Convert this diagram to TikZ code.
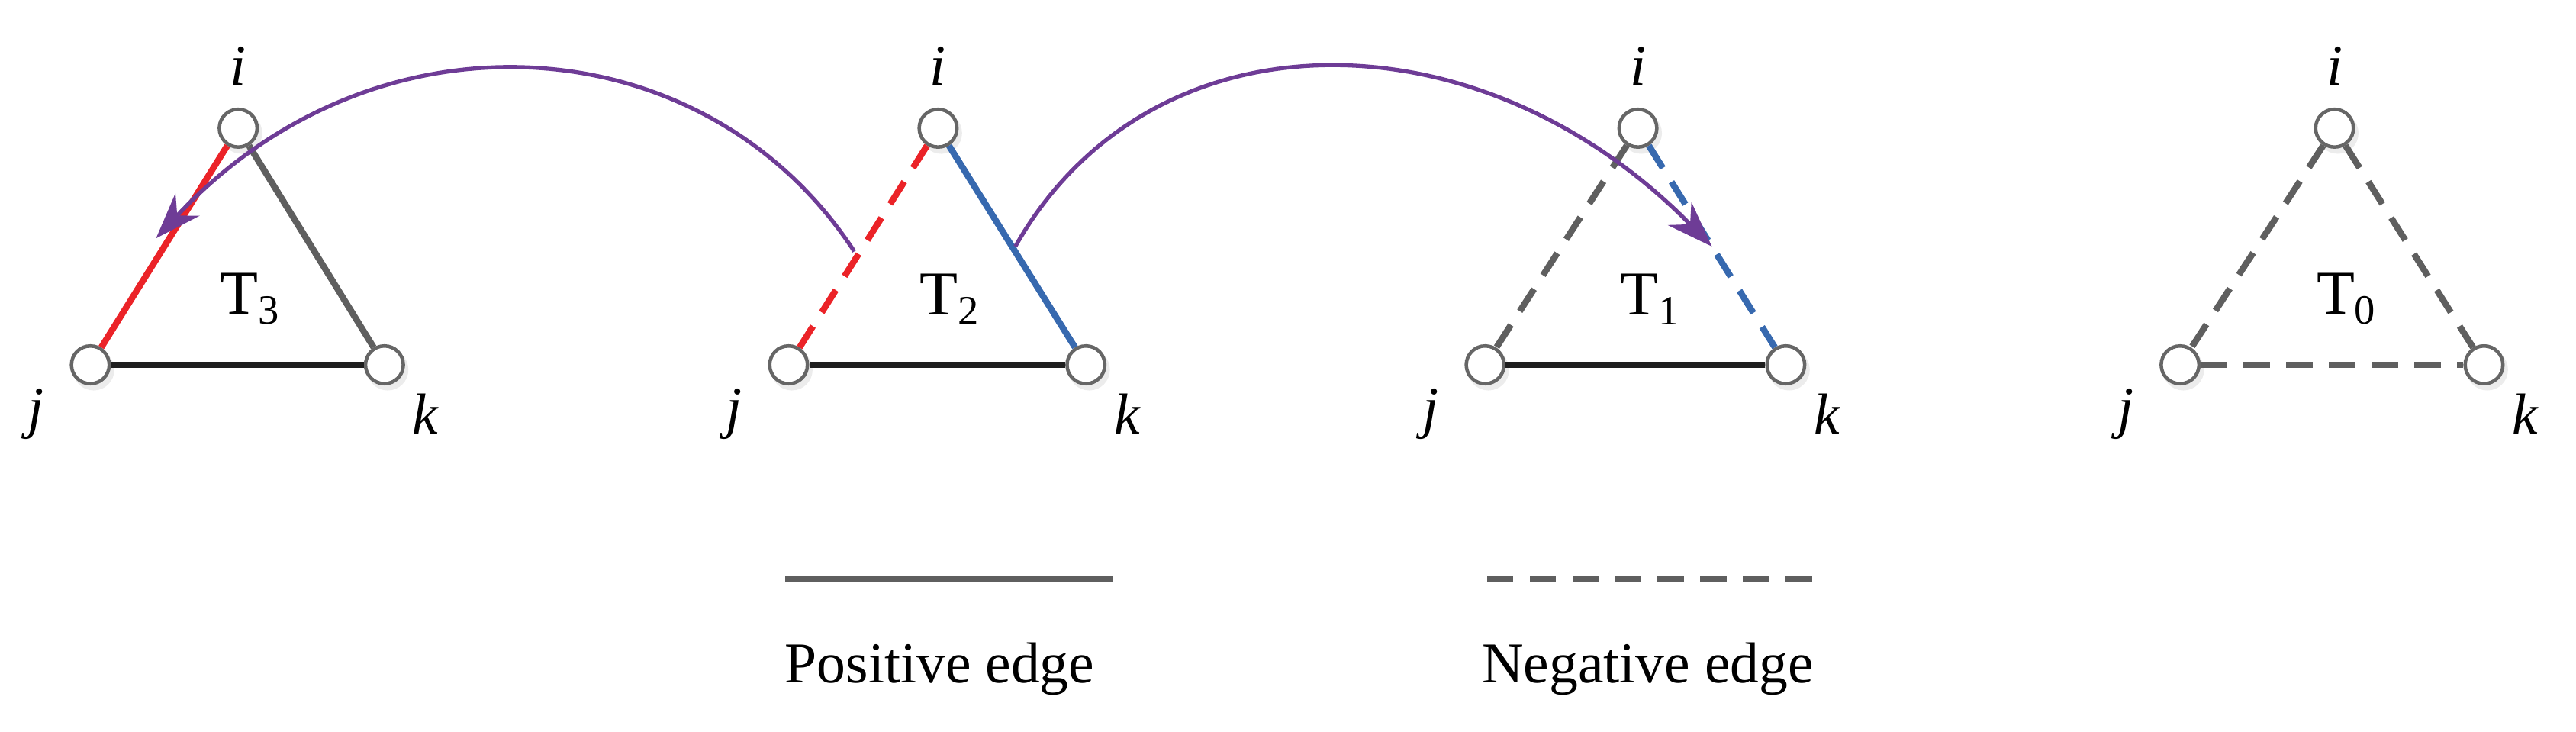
\documentclass[tikz,border=0pt]{standalone}
\usepackage{fontspec}
\setmainfont{Liberation Serif}
\usetikzlibrary{arrows.meta}
\newcommand{\mysub}[1]{\raisebox{-0.35ex}{\fontsize{36}{40}\selectfont #1}}
\begin{document}
\begin{tikzpicture}[x=0.5mm,y=-0.5mm,
  v/.style={circle,draw=gray!80!black,line width=3pt,minimum size=11.5mm,inner sep=0pt,fill=white},
  e/.style={line width=5.5pt},
  dsh/.style={dash pattern=on 8mm off 5mm},
  lab/.style={font=\fontsize{50}{56}\selectfont\itshape},
  tl/.style={font=\fontsize{54}{60}\selectfont},
  arr/.style={line width=3.5pt,draw=myp,-{Stealth[length=14mm,width=10mm]}}]
\definecolor{myp}{RGB}{110,60,150}
\definecolor{myr}{RGB}{235,35,40}
\definecolor{myb}{RGB}{55,105,175}
\definecolor{myg}{RGB}{95,95,95}
\definecolor{myk}{RGB}{30,30,30}
\useasboundingbox (0,0) rectangle (1568,445);
\foreach \n/\x in {a/145,b/571,c/997,d/1421}{
  \fill[gray!15] (\x+2,81) circle (6.3mm);
  \node[v] (\n i) at (\x,78) {};
  \node[lab] (\n il) at (\x,40) {i};
}
\foreach \n/\xj/\xk in {a/55/234,b/480/661,c/904/1087,d/1327/1512}{
  \fill[gray!15] (\xj+2,225) circle (6.3mm);
  \fill[gray!15] (\xk+2,225) circle (6.3mm);
  \node[v] (\n j) at (\xj,222) {};
  \node[v] (\n k) at (\xk,222) {};
  \node[lab] (\n jl) at (\xj-33,252) {j};
  \node[lab] (\n kl) at (\xk+25,252) {k};
}
\node[tl] (t3) at (152,182) {T\mysub{3}};
\node[tl] (t2) at (578,182) {T\mysub{2}};
\node[tl] (t1) at (1004,182) {T\mysub{1}};
\node[tl] (t0) at (1428,182) {T\mysub{0}};
% T3
\draw[e,myr] (ai) -- (aj);
\draw[e,myg] (ai) -- (ak);
\draw[e,myk] (aj) -- (ak);
% T2
\draw[e,myr,dsh] (bi) -- (bj);
\draw[e,myb] (bi) -- (bk);
\draw[e,myk] (bj) -- (bk);
% T1
\draw[e,myg,dsh] (ci) -- (cj);
\draw[e,myb,dsh] (ci) -- (ck);
\draw[e,myk] (cj) -- (ck);
% T0
\draw[e,myg,dsh] (di) -- (dj);
\draw[e,myg,dsh] (di) -- (dk);
\draw[e,myg,dsh] (dj) -- (dk);
% arrows
\coordinate (s1) at (520,153);
\coordinate (e1) at (95,145);
\coordinate (s2) at (618,150);
\coordinate (e2) at (1042,150);
\draw[arr] (s1) .. controls (430,15) and (230,0) .. (e1);
\draw[arr] (s2) .. controls (700,5) and (900,5) .. (e2);
% legend
\coordinate (p1) at (478,352); \coordinate (p2) at (677,352);
\coordinate (n1) at (905,352); \coordinate (n2) at (1105,352);
\draw[e,myg] (p1) -- (p2);
\draw[e,myg,dsh] (n1) -- (n2);
\node[font=\fontsize{50}{56}\selectfont] (pl) at (572,407) {Positive edge};
\node[font=\fontsize{50}{56}\selectfont] (nl) at (1003,407) {Negative edge};
\end{tikzpicture}
\end{document}
